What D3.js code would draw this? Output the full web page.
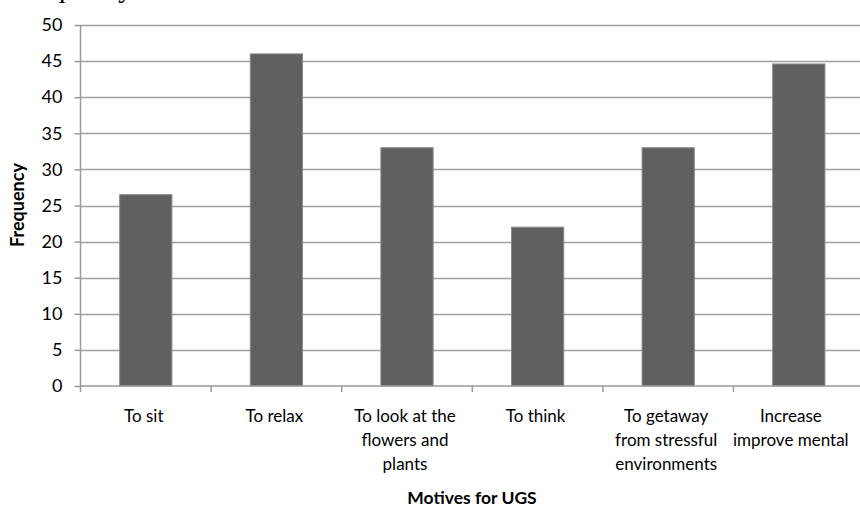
<!DOCTYPE html>
<html><head><meta charset="utf-8">
<script src="https://cdn.jsdelivr.net/npm/d3@7"></script>
<style>
html,body{margin:0;padding:0;background:#fff;}
svg{display:block;}
</style></head>
<body>
<script>
const categories = [
  ["To sit"],
  ["To relax"],
  ["To look at the", "flowers and", "plants"],
  ["To think"],
  ["To getaway", "from stressful", "environments"],
  ["Increase", "improve mental"]
];
const values = [26.5, 46, 33, 22, 33, 44.6];
const yTicks = [0, 5, 10, 15, 20, 25, 30, 35, 40, 45, 50];
const yTitle = "Frequency";
const xTitle = "Motives for UGS";

const W = 860, H = 509;
const left = 80.5, bandW = 130.6;
const svg = d3.select("body").append("svg").attr("width", W).attr("height", H);
const font = "Lato, 'Open Sans', sans-serif";

// partial caption from page above (only descenders visible)
svg.append("text").attr("x", 14).attr("y", -3)
  .attr("font-family", "'Liberation Serif', serif").attr("font-size", 28)
  .attr("fill", "#000").text("Frequency");

const x = d3.scaleBand().domain(d3.range(categories.length))
  .range([left, left + bandW * categories.length]).paddingInner(0.6).paddingOuter(0.3);
const y = d3.scaleLinear().domain([0, 50]).range([386, 25]);

// gridlines
svg.append("g").selectAll("line").data(yTicks.filter(d => d > 0)).join("line")
  .attr("x1", left).attr("x2", W)
  .attr("y1", d => Math.round(y(d)) + 0.5).attr("y2", d => Math.round(y(d)) + 0.5)
  .attr("stroke", "#a0a0a0").attr("stroke-width", 1.5);

// bars
svg.append("g").selectAll("rect").data(values).join("rect")
  .attr("x", (d, i) => x(i)).attr("width", x.bandwidth())
  .attr("y", d => y(d)).attr("height", d => y(0) - y(d))
  .attr("fill", "#606060").attr("stroke", "#8a8a8a").attr("stroke-width", 1);

// y axis
const yAxis = d3.axisLeft(y).tickValues(yTicks).tickSize(6).tickPadding(12);
const gy = svg.append("g").attr("transform", `translate(${left},0)`).call(yAxis);
gy.select(".domain").attr("stroke", "#9a9a9a").attr("stroke-width", 1.5).attr("d", `M0,${y(50)}V${y(0)}`);
gy.selectAll(".tick line").attr("stroke", "#9a9a9a").attr("stroke-width", 1.5);
gy.selectAll(".tick text").attr("font-family", font).attr("font-size", 18).attr("fill", "#000");

// x axis baseline and category ticks
const xEdges = d3.range(categories.length + 1).map(i => left + i * bandW);
svg.append("line").attr("x1", left).attr("x2", W).attr("y1", y(0)).attr("y2", y(0))
  .attr("stroke", "#9a9a9a").attr("stroke-width", 1.5);
svg.append("g").selectAll("line").data(xEdges.filter(v => v < W)).join("line")
  .attr("x1", d => d).attr("x2", d => d).attr("y1", y(0)).attr("y2", y(0) + 6)
  .attr("stroke", "#9a9a9a").attr("stroke-width", 1.5);

// category labels
const lab = svg.append("g").selectAll("text").data(categories).join("text")
  .attr("font-family", font).attr("font-size", 17).attr("fill", "#000")
  .attr("text-anchor", "middle")
  .attr("transform", (d, i) => `translate(${x(i) + x.bandwidth() / 2 - (i === 5 ? 8 : 2)},${422})`);
lab.selectAll("tspan").data(d => d).join("tspan")
  .attr("x", 0).attr("dy", (d, j) => j === 0 ? 0 : 23.8).text(d => d);

// axis titles
svg.append("text").attr("transform", "translate(24,205) rotate(-90)")
  .attr("text-anchor", "middle").attr("font-family", font).attr("font-weight", "bold")
  .attr("font-size", 18).attr("fill", "#000").text(yTitle);
svg.append("text").attr("x", 472).attr("y", 504)
  .attr("text-anchor", "middle").attr("font-family", font).attr("font-weight", "bold")
  .attr("font-size", 17.5).attr("fill", "#000").text(xTitle);
</script>
</body></html>
